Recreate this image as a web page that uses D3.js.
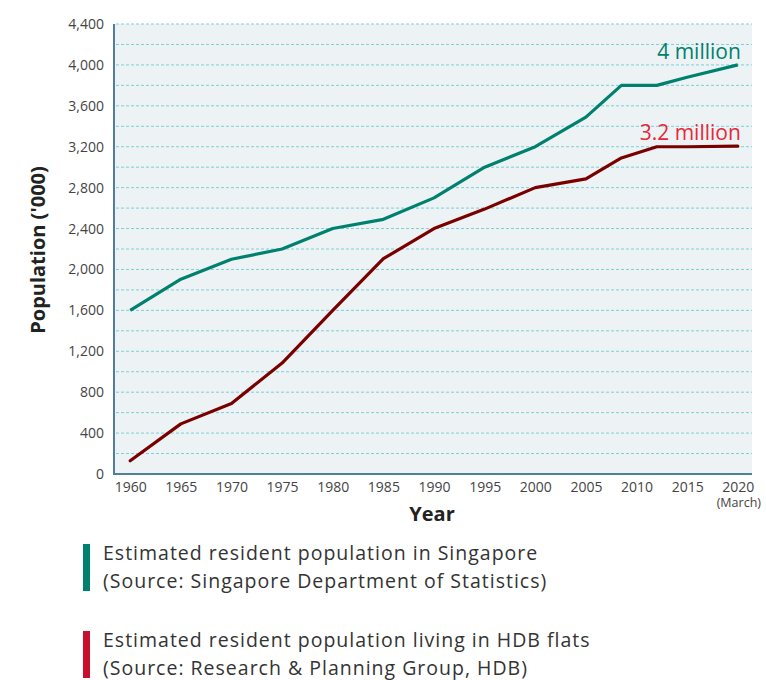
<!DOCTYPE html>
<html>
<head>
<meta charset="utf-8">
<script src="https://cdn.jsdelivr.net/npm/d3@7"></script>
<style>
  body { margin: 0; background: #fff; font-family: "Open Sans", sans-serif; }
  .tick text { fill: #444; }
</style>
</head>
<body>
<div id="chart"></div>
<script>
// values, in thousands
const years = [1960, 1965, 1970, 1975, 1980, 1985, 1990, 1995, 2000, 2005, 2008.5, 2012, 2015, 2020];
const residents = [1600, 1905, 2100, 2200, 2400, 2490, 2700, 3000, 3200, 3490, 3800, 3800, 3880, 4000];
const hdbResidents = [130, 490, 690, 1085, 1600, 2105, 2400, 2590, 2800, 2885, 3090, 3200, 3200, 3205];
const xTicks = [1960, 1965, 1970, 1975, 1980, 1985, 1990, 1995, 2000, 2005, 2010, 2015, 2020];
const yTicks = d3.range(0, 4401, 400);
const gridValues = d3.range(0, 4401, 200);
const legendItems = [
  { color: '#00806e', lines: ['Estimated resident population in Singapore', '(Source: Singapore Department of Statistics)'] },
  { color: '#c8102e', lines: ['Estimated resident population living in HDB flats', '(Source: Research & Planning Group, HDB)'] }
];

const width = 766, height = 680;
const margin = { top: 24, left: 114, right: 14, bottom: 206 };
const plotW = width - margin.left - margin.right;
const plotH = height - margin.top - margin.bottom;
const font = '"Open Sans", sans-serif';

const svg = d3.select('#chart').append('svg')
  .attr('width', width)
  .attr('height', height);

const x = d3.scaleLinear().domain([1958.4, 2021.4]).range([0, plotW]);
const y = d3.scaleLinear().domain([0, 4400]).range([plotH, 0]);

const g = svg.append('g')
  .attr('transform', 'translate(' + margin.left + ',' + margin.top + ')');

// plot background
g.append('rect')
  .attr('width', plotW)
  .attr('height', plotH)
  .attr('fill', '#edf3f5');

// dashed grid
g.selectAll('.grid')
  .data(gridValues.filter(d => d > 0))
  .enter().append('line')
  .attr('class', 'grid')
  .attr('x1', 2).attr('x2', plotW)
  .attr('y1', d => y(d)).attr('y2', d => y(d))
  .attr('stroke', '#7ccfd8')
  .attr('stroke-width', 1)
  .attr('stroke-dasharray', '3,2');

// axes
const yAxis = g.append('g')
  .call(d3.axisLeft(y).tickValues(yTicks).tickSize(0).tickPadding(10).tickFormat(d3.format(',')));
yAxis.select('.domain').remove();
yAxis.selectAll('text').attr('font-size', 14).attr('font-family', font);

const xAxis = g.append('g')
  .attr('transform', 'translate(0,' + plotH + ')')
  .call(d3.axisBottom(x).tickValues(xTicks).tickSize(0).tickPadding(8).tickFormat(d3.format('d')));
xAxis.select('.domain').remove();
xAxis.selectAll('text').attr('font-size', 14).attr('font-family', font);

g.append('text')
  .attr('x', x(2020) + 1)
  .attr('y', plotH + 33)
  .attr('text-anchor', 'middle')
  .attr('font-size', 12.5)
  .attr('fill', '#444')
  .text('(March)');

g.append('line')
  .attr('x1', 0).attr('x2', 0).attr('y1', 0).attr('y2', plotH + 1)
  .attr('stroke', '#4f7f9b').attr('stroke-width', 2);
g.append('line')
  .attr('x1', -1).attr('x2', plotW).attr('y1', plotH).attr('y2', plotH)
  .attr('stroke', '#4f7f9b').attr('stroke-width', 2);

// axis titles
svg.append('text')
  .attr('transform', 'translate(45,' + (margin.top + plotH / 2 + 1) + ') rotate(-90)')
  .attr('text-anchor', 'middle')
  .attr('font-size', 20)
  .attr('font-weight', 'bold')
  .attr('fill', '#222')
  .text("Population ('000)");

svg.append('text')
  .attr('x', 432)
  .attr('y', 521)
  .attr('text-anchor', 'middle')
  .attr('font-size', 20)
  .attr('font-weight', 'bold')
  .attr('fill', '#222')
  .text('Year');

// lines
const line = d3.line()
  .x((d, i) => x(years[i]))
  .y(d => y(d));

g.append('path')
  .datum(residents)
  .attr('d', line)
  .attr('fill', 'none')
  .attr('stroke', '#00806e')
  .attr('stroke-width', 3.2)
  .attr('stroke-linejoin', 'round');

g.append('path')
  .datum(hdbResidents)
  .attr('d', line)
  .attr('fill', 'none')
  .attr('stroke', '#7a0000')
  .attr('stroke-width', 3.2)
  .attr('stroke-linejoin', 'round')
  .attr('stroke-linecap', 'round');

// end labels
g.append('text')
  .attr('x', x(2020) + 3)
  .attr('y', y(4000) - 6)
  .attr('text-anchor', 'end')
  .attr('font-size', 21)
  .attr('fill', '#00806e')
  .text('4 million');

g.append('text')
  .attr('x', x(2020) + 3)
  .attr('y', y(3200) - 7)
  .attr('text-anchor', 'end')
  .attr('font-size', 21)
  .attr('fill', '#e8283a')
  .text('3.2 million');

// legend
const legend = svg.selectAll('.legend')
  .data(legendItems)
  .enter().append('g')
  .attr('class', 'legend')
  .attr('transform', (d, i) => 'translate(83,' + (544 + i * 87) + ')');

legend.append('rect')
  .attr('width', 7)
  .attr('height', 47)
  .attr('fill', d => d.color);

legend.selectAll('text')
  .data(d => d.lines)
  .enter().append('text')
  .attr('x', 20)
  .attr('y', (d, i) => 16 + i * 28)
  .attr('font-size', 19.5)
  .attr('letter-spacing', 1)
  .attr('fill', '#333')
  .text(d => d);
</script>
</body>
</html>
